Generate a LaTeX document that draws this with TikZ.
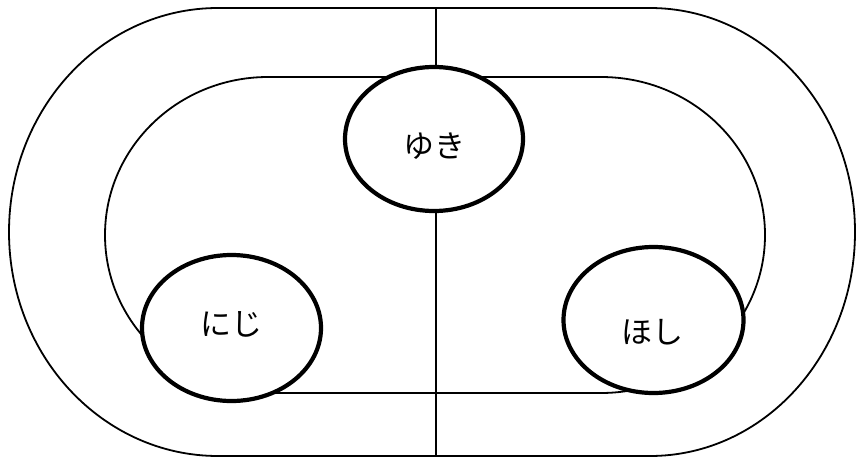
\documentclass[tikz,border=0pt]{standalone}
\usepackage{fontspec}
\newfontfamily\cjk{Noto Sans CJK JP}
\usetikzlibrary{shapes.geometric}
\tikzset{
  thinline/.style={line width=1.8pt, black},
  bubble/.style={ellipse, draw, line width=4.2pt, fill=white, inner sep=0pt},
  lbl/.style={font=\cjk\fontsize{31}{31}\selectfont, inner sep=0pt}
}
\begin{document}
\begin{tikzpicture}[x=1pt,y=1pt]
\useasboundingbox (0,0) rectangle (856,459);
% outer track
\draw[thinline] (218,451) -- (650,451)
  arc[start angle=90, end angle=-90, x radius=205, y radius=224]
  -- (218,3)
  arc[start angle=270, end angle=90, x radius=209, y radius=224] -- cycle;
% inner track
\draw[thinline] (268,382) -- (601,382)
  arc[start angle=90, end angle=-90, x radius=164, y radius=158]
  -- (268,66)
  arc[start angle=270, end angle=90, x radius=163, y radius=158] -- cycle;
% divider
\coordinate (top) at (436,451);
\coordinate (bot) at (436,3);
\draw[thinline] (top) -- (bot);
% bubbles
\node[bubble, minimum width=178pt, minimum height=144pt] (yuki) at (434,320) {};
\node[bubble, minimum width=179pt, minimum height=146pt] (niji) at (231.5,131) {};
\node[bubble, minimum width=180pt, minimum height=146pt] (hoshi) at (653.5,139) {};
\node[lbl] (tyuki) at (434.5,313) {ゆき};
\node[lbl] (tniji) at (231.5,135) {にじ};
\node[lbl] (thoshi) at (652.5,127) {ほし};
\end{tikzpicture}
\end{document}
